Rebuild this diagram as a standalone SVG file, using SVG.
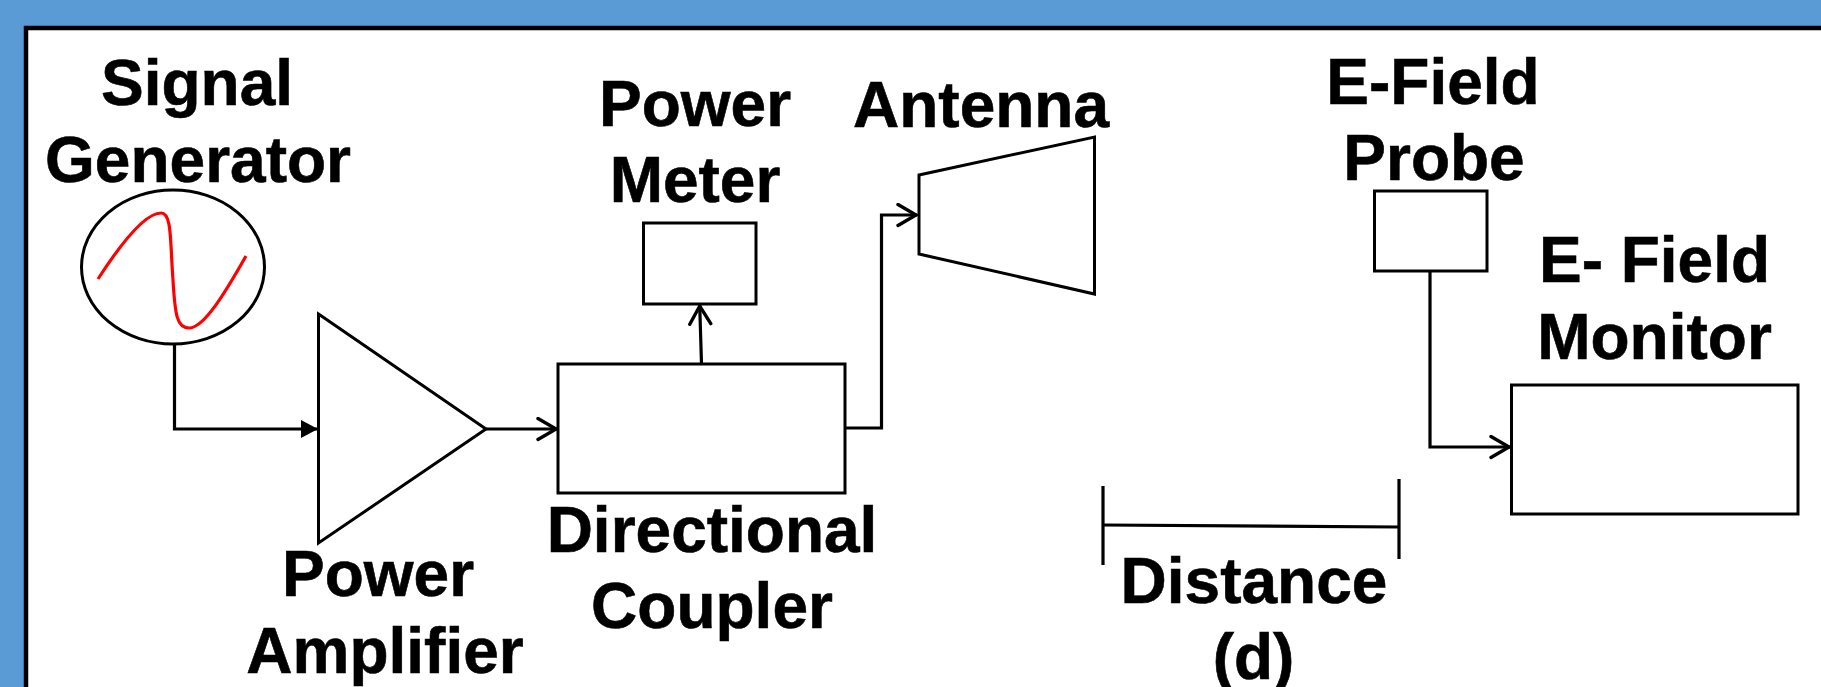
<svg xmlns="http://www.w3.org/2000/svg" width="1821" height="687" viewBox="0 0 1821 687">
<style>
.s{fill:none;stroke:#000;stroke-width:3}
.c{fill:none;stroke:#000;stroke-width:3.200}
text{font-family:"Liberation Sans",Arial,sans-serif;font-weight:700;font-size:64px;fill:#000;stroke:#000;stroke-width:.6px;text-anchor:middle}
</style>
<defs>
<marker id="open" markerUnits="userSpaceOnUse" markerWidth="24" markerHeight="26" refX="21" refY="12" orient="auto"><path d="M2 1.500L20 12L2 22.500" fill="none" stroke="#000" stroke-width="3.400" stroke-linecap="round"/></marker>
<marker id="solid" markerUnits="userSpaceOnUse" markerWidth="20" markerHeight="20" refX="17" refY="10" orient="auto"><path d="M0 1L17 10L0 19Z" fill="#000"/></marker>
</defs>
<g id="frame">
<rect width="1821" height="687" fill="#5B9BD5"/>
<rect x="26" y="28" width="1800" height="665" fill="#fff" stroke="#000" stroke-width="4.500"/>
</g>
<g id="connectors">
<path class="c" d="M174.500 344V429H318" marker-end="url(#solid)"/>
<path class="c" d="M486 429H557" marker-end="url(#open)"/>
<path class="c" d="M701.500 364L699.700 305" marker-end="url(#open)"/>
<path class="c" d="M845 428H881.500V215H917" marker-end="url(#open)"/>
<path class="c" d="M1430 271V447H1510" marker-end="url(#open)"/>
<path class="c" d="M1103 525L1399 527"/>
<path class="c" d="M1103 486V565M1399 479V559"/>
</g>
<g id="signal-generator">
<ellipse class="s" cx="173" cy="267" rx="91.500" ry="77"/>
<path d="M98 279C120 245 145 213 161 213C172 213 170 240 173 280C175 315 177 328 189 328C204 328 225 293 246 256" fill="none" stroke="#f00" stroke-width="3.200"/>
<text x="197" y="105">Signal</text>
<text x="198" y="182">Generator</text>
</g>
<g id="power-amplifier">
<path class="s" d="M318.500 314L486 429L318.500 543Z"/>
<text x="378" y="596">Power</text>
<text x="385" y="673">Amplifier</text>
</g>
<g id="directional-coupler">
<rect class="s" x="558" y="364" width="287" height="129"/>
<text x="712" y="552">Directional</text>
<text x="712" y="628">Coupler</text>
</g>
<g id="power-meter">
<rect class="s" x="643.500" y="223" width="112.500" height="81"/>
<text x="695" y="126">Power</text>
<text x="695" y="202">Meter</text>
</g>
<g id="antenna">
<path class="s" d="M919 175L1094.500 137V294L919 254Z"/>
<text x="981" y="127">Antenna</text>
</g>
<g id="e-field-probe">
<rect class="s" x="1374.500" y="191" width="112.500" height="80"/>
<text x="1433" y="104">E-Field</text>
<text x="1434" y="180">Probe</text>
</g>
<g id="e-field-monitor">
<rect class="s" x="1511.500" y="385" width="286.500" height="129"/>
<text x="1654.500" y="282">E- Field</text>
<text x="1654.500" y="359">Monitor</text>
</g>
<g id="distance">
<text x="1254" y="603">Distance</text>
<text x="1253.500" y="679">(d)</text>
</g>
</svg>
